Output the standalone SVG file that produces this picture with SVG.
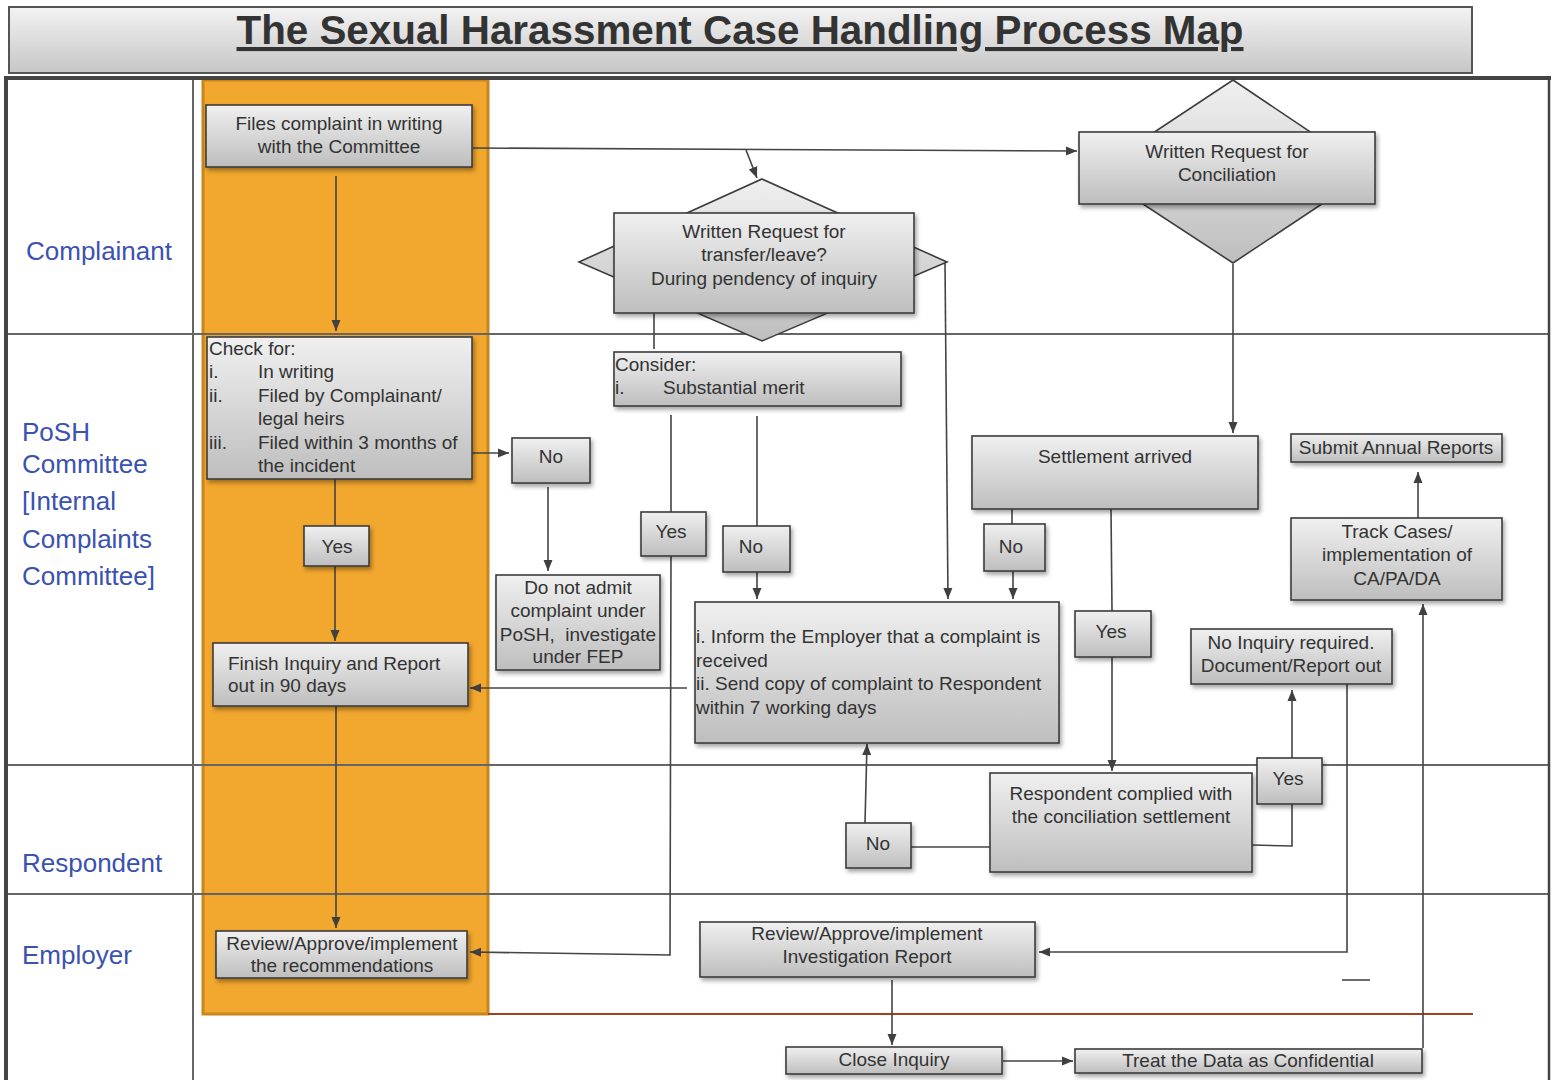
<svg xmlns="http://www.w3.org/2000/svg" width="1557" height="1080" viewBox="0 0 1557 1080">
<defs>
<linearGradient id="g" x1="0" y1="0" x2="0" y2="1">
<stop offset="0" stop-color="#f0f0f0"/>
<stop offset="1" stop-color="#bebebe"/>
</linearGradient>
<linearGradient id="gt" x1="0" y1="0" x2="0" y2="1">
<stop offset="0" stop-color="#f3f3f3"/>
<stop offset="1" stop-color="#c6c6c6"/>
</linearGradient>
<filter id="sh" x="-10%" y="-10%" width="130%" height="140%">
<feDropShadow dx="2" dy="3" stdDeviation="2" flood-color="#000" flood-opacity="0.35"/>
</filter>
<marker id="arr" markerUnits="userSpaceOnUse" markerWidth="12" markerHeight="12" refX="11" refY="6" orient="auto">
<path d="M0,1.5 L11,6 L0,10.5 z" fill="#404040"/>
</marker>
</defs>
<style>
.box{fill:url(#g);stroke:#3c3c3c;stroke-width:1.6;filter:url(#sh)}
.t{font-family:"Liberation Sans",Arial,sans-serif;font-size:19px;fill:#333}
.c{text-anchor:middle}
.lane{font-family:"Liberation Sans",Arial,sans-serif;font-size:26px;fill:#3a52b0}
.ln{stroke:#666;stroke-width:2;fill:none}
.conn{stroke:#444;stroke-width:1.6;fill:none}
.a{marker-end:url(#arr)}
</style>
<rect width="1557" height="1080" fill="#fff"/>

<g id="title">
<rect x="9" y="7" width="1463" height="66" fill="url(#gt)" stroke="#555" stroke-width="2"/>
<text x="740" y="44" text-anchor="middle" font-family="'Liberation Sans',Arial,sans-serif" font-weight="bold" font-size="41" fill="#333" text-decoration="underline" textLength="1007" lengthAdjust="spacingAndGlyphs">The Sexual Harassment Case Handling Process Map</text>
</g>

<g id="lanes">
<rect x="203" y="80" width="285" height="934" fill="#f2a72e" stroke="#c8861c" stroke-width="3"/>
<line x1="488" y1="1014" x2="1473" y2="1014" stroke="#a0401c" stroke-width="2"/>
<line x1="193" y1="80" x2="193" y2="1080" class="ln"/>
<line x1="6" y1="334" x2="1550" y2="334" class="ln"/>
<line x1="6" y1="765" x2="1550" y2="765" class="ln"/>
<line x1="6" y1="894" x2="1550" y2="894" class="ln"/>
<line x1="1549" y1="78" x2="1549" y2="1080" stroke="#444" stroke-width="2.5"/>
<line x1="4" y1="78" x2="1551" y2="78" stroke="#444" stroke-width="4"/>
<line x1="6" y1="76" x2="6" y2="1080" stroke="#444" stroke-width="4"/>
<text class="lane" x="26" y="260">Complainant</text>
<text class="lane" x="22" y="441">PoSH</text>
<text class="lane" x="22" y="473">Committee</text>
<text class="lane" x="22" y="510">[Internal</text>
<text class="lane" x="22" y="548">Complaints</text>
<text class="lane" x="22" y="585">Committee]</text>
<text class="lane" x="22" y="872">Respondent</text>
<text class="lane" x="22" y="964">Employer</text>
</g>

<g id="connectors">
<path class="conn a" d="M473,148 L1077,151"/>
<path class="conn a" d="M746,150 L757,178"/>
<path class="conn a" d="M336,176 L336,331"/>
<path class="conn a" d="M470,453 L509,453"/>
<path class="conn a" d="M548,487 L548,571"/>
<path class="conn" d="M335,479 L335,526"/>
<path class="conn a" d="M335,566 L335,641"/>
<path class="conn a" d="M336,706 L336,928"/>
<path class="conn" d="M654,313 L654,349"/>
<path class="conn a" d="M945,263 L948,599"/>
<path class="conn" d="M671,415 L671,512"/>
<path class="conn a" d="M671,556 L670,955 L470,952"/>
<path class="conn" d="M757,416 L757,526"/>
<path class="conn a" d="M757,572 L757,599"/>
<path class="conn a" d="M687,688 L470,688"/>
<path class="conn a" d="M1233,264 L1233,433"/>
<path class="conn" d="M1012,509 L1012,524"/>
<path class="conn a" d="M1013,571 L1013,599"/>
<path class="conn" d="M1111,509 L1112,611"/>
<path class="conn a" d="M1112,657 L1112,771"/>
<path class="conn" d="M1252,845 L1292,846 L1292,804"/>
<path class="conn a" d="M1292,758 L1292,690"/>
<path class="conn a" d="M1347,684 L1347,952 L1039,952"/>
<path class="conn" d="M1342,980 L1370,980"/>
<path class="conn" d="M990,847 L911,847"/>
<path class="conn a" d="M865,823 L867,744"/>
<path class="conn a" d="M892,980 L892,1045"/>
<path class="conn a" d="M1003,1061 L1073,1061"/>
<path class="conn a" d="M1423,1048 L1423,604"/>
<path class="conn a" d="M1418,518 L1418,472"/>
</g>

<g id="files-complaint">
<rect class="box" x="206" y="105" width="266" height="62"/>
<text class="t c" x="339" y="130">Files complaint in writing</text>
<text class="t c" x="339" y="153">with the Committee</text>
</g>

<g id="check-for">
<rect class="box" x="207" y="337" width="265" height="142"/>
<text class="t" x="209" y="355">Check for:</text>
<text class="t" x="209" y="378">i.</text><text class="t" x="258" y="378">In writing</text>
<text class="t" x="209" y="402">ii.</text><text class="t" x="258" y="402">Filed by Complainant/</text>
<text class="t" x="258" y="425">legal heirs</text>
<text class="t" x="209" y="449">iii.</text><text class="t" x="258" y="449">Filed within 3 months of</text>
<text class="t" x="258" y="472">the incident</text>
</g>

<g id="yes-check">
<rect class="box" x="304" y="526" width="65" height="40"/>
<text class="t c" x="337" y="553">Yes</text>
</g>

<g id="no-check">
<rect class="box" x="512" y="438" width="78" height="45"/>
<text class="t c" x="551" y="463">No</text>
</g>

<g id="do-not-admit">
<rect class="box" x="496" y="575" width="164" height="95"/>
<text class="t c" x="578" y="594">Do not admit</text>
<text class="t c" x="578" y="617">complaint under</text>
<text class="t c" x="578" y="641" style="white-space:pre">PoSH,  investigate</text>
<text class="t c" x="578" y="663">under FEP</text>
</g>

<g id="finish-inquiry">
<rect class="box" x="213" y="643" width="255" height="63"/>
<text class="t" x="228" y="670">Finish Inquiry and Report</text>
<text class="t" x="228" y="692">out in 90 days</text>
</g>

<g id="review-recommendations">
<rect class="box" x="216" y="931" width="251" height="47"/>
<text class="t c" x="342" y="950">Review/Approve/implement</text>
<text class="t c" x="342" y="972">the recommendations</text>
</g>

<g id="transfer-request">
<polygon points="762,179 947,262 762,341 579,262" fill="url(#g)" stroke="#3c3c3c" stroke-width="1.6"/>
<rect class="box" x="614" y="213" width="300" height="100"/>
<text class="t c" x="764" y="238">Written Request for</text>
<text class="t c" x="764" y="261">transfer/leave?</text>
<text class="t c" x="764" y="285">During pendency of inquiry</text>
</g>

<g id="consider">
<rect class="box" x="614" y="352" width="287" height="54"/>
<text class="t" x="615" y="371">Consider:</text>
<text class="t" x="615" y="394">i.</text><text class="t" x="663" y="394">Substantial merit</text>
</g>

<g id="yes-consider">
<rect class="box" x="641" y="512" width="65" height="44"/>
<text class="t c" x="671" y="538">Yes</text>
</g>

<g id="no-consider">
<rect class="box" x="723" y="526" width="67" height="46"/>
<text class="t c" x="751" y="553">No</text>
</g>

<g id="inform-employer">
<rect class="box" x="695" y="602" width="364" height="141"/>
<text class="t" x="696" y="643">i. Inform the Employer that a complaint is</text>
<text class="t" x="696" y="667">received</text>
<text class="t" x="696" y="690">ii. Send copy of complaint to Respondent</text>
<text class="t" x="696" y="714">within 7 working days</text>
</g>

<g id="conciliation-request">
<polygon points="1233,80 1370,172 1233,263 1094,172" fill="url(#g)" stroke="#3c3c3c" stroke-width="1.6"/>
<rect class="box" x="1079" y="132" width="296" height="72"/>
<text class="t c" x="1227" y="158">Written Request for</text>
<text class="t c" x="1227" y="181">Conciliation</text>
</g>

<g id="settlement-arrived">
<rect class="box" x="972" y="436" width="286" height="73"/>
<text class="t c" x="1115" y="463">Settlement arrived</text>
</g>

<g id="no-settlement">
<rect class="box" x="984" y="524" width="61" height="47"/>
<text class="t c" x="1011" y="553">No</text>
</g>

<g id="yes-settlement">
<rect class="box" x="1075" y="611" width="76" height="46"/>
<text class="t c" x="1111" y="638">Yes</text>
</g>

<g id="submit-annual-reports">
<rect class="box" x="1291" y="434" width="211" height="28"/>
<text class="t c" x="1396" y="454">Submit Annual Reports</text>
</g>

<g id="track-cases">
<rect class="box" x="1291" y="518" width="211" height="82"/>
<text class="t c" x="1397" y="538">Track Cases/</text>
<text class="t c" x="1397" y="561">implementation of</text>
<text class="t c" x="1397" y="585">CA/PA/DA</text>
</g>

<g id="no-inquiry">
<rect class="box" x="1191" y="629" width="201" height="55"/>
<text class="t c" x="1291" y="649">No Inquiry required.</text>
<text class="t c" x="1291" y="672">Document/Report out</text>
</g>

<g id="respondent-complied">
<rect class="box" x="990" y="773" width="262" height="99"/>
<text class="t c" x="1121" y="800">Respondent complied with</text>
<text class="t c" x="1121" y="823">the conciliation settlement</text>
</g>

<g id="yes-complied">
<rect class="box" x="1257" y="758" width="65" height="46"/>
<text class="t c" x="1288" y="785">Yes</text>
</g>

<g id="no-complied">
<rect class="box" x="846" y="823" width="65" height="45"/>
<text class="t c" x="878" y="850">No</text>
</g>

<g id="review-investigation">
<rect class="box" x="700" y="922" width="335" height="55"/>
<text class="t c" x="867" y="940">Review/Approve/implement</text>
<text class="t c" x="867" y="963">Investigation Report</text>
</g>

<g id="close-inquiry">
<rect class="box" x="786" y="1047" width="216" height="27"/>
<text class="t c" x="894" y="1066">Close Inquiry</text>
</g>

<g id="treat-confidential">
<rect class="box" x="1075" y="1049" width="347" height="24"/>
<text class="t c" x="1248" y="1067">Treat the Data as Confidential</text>
</g>
</svg>
